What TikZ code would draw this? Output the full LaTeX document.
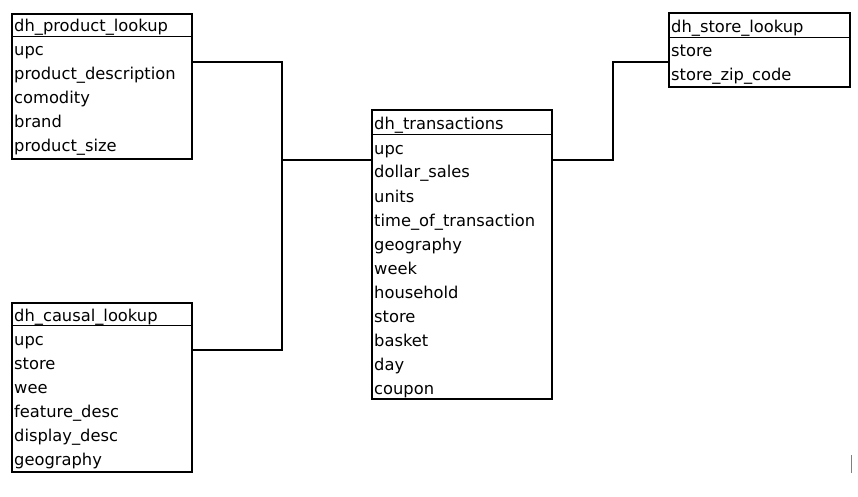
\documentclass[tikz,border=0pt]{standalone}
\usepackage{fontspec}
\setmainfont{DejaVu Sans}
\usetikzlibrary{calc}
\tikzset{
  tablebox/.style={draw=black, line width=2pt, rectangle, inner sep=0pt, fill=none},
  sepline/.style={draw=black, line width=0.9pt},
  cell/.style={inner sep=0pt, anchor=base west, font=\fontsize{16.3}{19}\selectfont, text=black},
  conn/.style={draw=black, line width=1.4pt},
}
% #1 name, #2 left, #3 top, #4 separator y, #5 right, #6 bottom, #7 header, #8 rows
\newcommand\ertable[8]{%
  \node[tablebox, minimum width={(#5)-(#2)}, minimum height={(#6)-(#3)}, anchor=north west] (#1) at (#2,#3) {};
  \draw[sepline] (#2,#4) -- (#5,#4);
  \node[cell] (#1-h) at (#2+3,#4-4) {#7};
  \foreach \r [count=\i] in {#8} {
    \node[cell] (#1-\i) at (#2+3,#4+20+24*\i-24) {\r};
  }
}
\begin{document}
\begin{tikzpicture}[x=1pt,y=-1pt]
\useasboundingbox (0,0) rectangle (858,497);
\ertable{prod}{11}{13}{36}{191}{158}{dh\_product\_lookup}{upc,product\_description,comodity,brand,product\_size}
\ertable{caus}{11}{302}{325}{191}{471}{dh\_causal\_lookup}{upc,store,wee,feature\_desc,display\_desc,geography}
\ertable{trans}{371}{109}{134}{551}{398}{dh\_transactions}{upc,dollar\_sales,units,time\_of\_transaction,geography,week,household,store,basket,day,coupon}
\ertable{store}{668}{12}{37}{849}{86}{dh\_store\_lookup}{store,store\_zip\_code}
\coordinate (jl) at (282,160);
\coordinate (jr) at (613,160);
\draw[conn] (prod.east |- 0,62) -| (jl) |- (caus.east |- 0,350);
\draw[conn] (jl) -- (trans.west |- jl);
\draw[conn] (store.west |- 0,62) -| (jr) -- (trans.east |- jr);
\coordinate (ga) at (851,455);
\coordinate (gb) at (851,473);
\draw[draw=gray, line width=1pt] (ga) -- (gb);
\end{tikzpicture}
\end{document}
